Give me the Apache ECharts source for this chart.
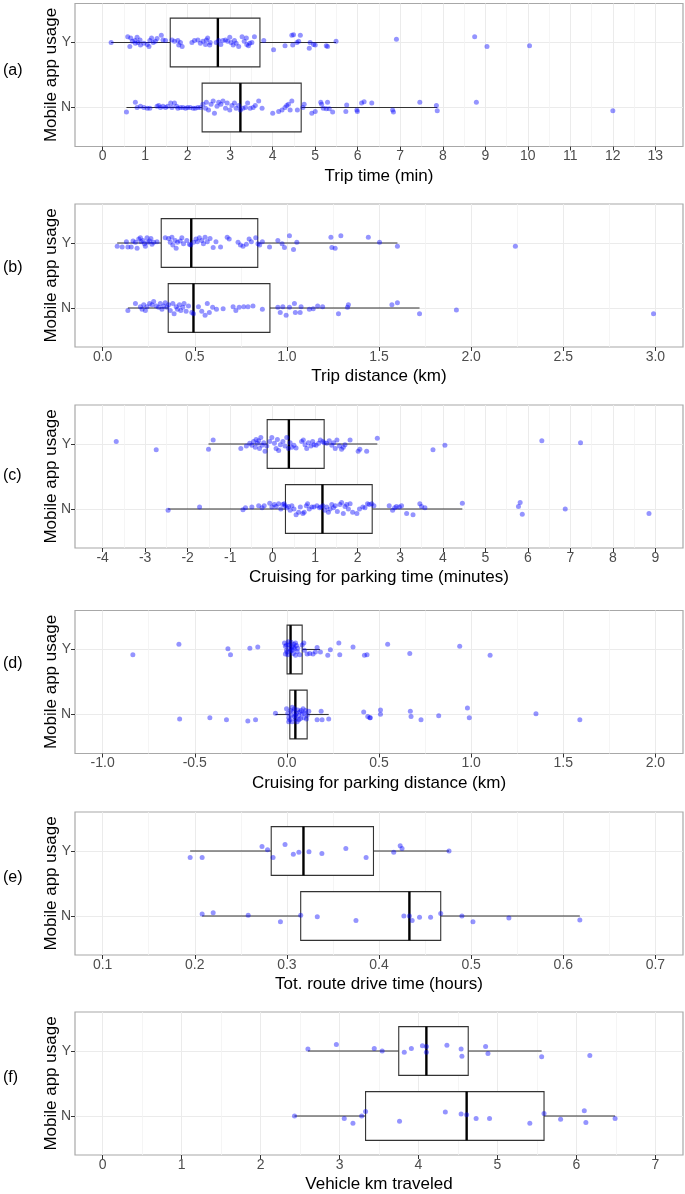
<!DOCTYPE html>
<html><head><meta charset="utf-8">
<script src="https://cdn.jsdelivr.net/npm/echarts@6/dist/echarts.min.js"></script>
<style>html,body{margin:0;padding:0;background:#fff}#c{width:685px;height:1194px}</style>
</head><body><div id="c"></div>
<script>
// ---------------- DATA ----------------
const categories = ['N', 'Y'];
const yTitle = 'Mobile app usage';
const panelLabels = ['(a)', '(b)', '(c)', '(d)', '(e)', '(f)'];
const axisTitles = ['Trip time (min)', 'Trip distance (km)', 'Cruising for parking time (minutes)',
  'Cruising for parking distance (km)', 'Tot. route drive time (hours)', 'Vehicle km traveled'];

const ticksA = [0,1,2,3,4,5,6,7,8,9,10,11,12,13];
const ticksB = [0,0.5,1,1.5,2,2.5,3];
const ticksC = [-4,-3,-2,-1,0,1,2,3,4,5,6,7,8,9];
const ticksD = [-1,-0.5,0,0.5,1,1.5,2];
const ticksE = [0.1,0.2,0.3,0.4,0.5,0.6,0.7];
const ticksF = [0,1,2,3,4,5,6,7];
const tickDecimals = [0, 1, 0, 1, 1, 0];

// box stats: [whisker low, Q1, median, Q3, whisker high]
const boxA_N = [0.56, 2.34, 3.24, 4.67, 7.87];
const boxA_Y = [0.20, 1.59, 2.71, 3.70, 5.49];
const boxB_N = [0.137, 0.356, 0.493, 0.908, 1.72];
const boxB_Y = [0.079, 0.318, 0.481, 0.842, 1.60];
const boxC_N = [-2.46, 0.30, 1.17, 2.34, 4.46];
const boxC_Y = [-1.51, -0.13, 0.38, 1.21, 2.46];
const boxD_N = [-0.062, 0.016, 0.046, 0.110, 0.227];
const boxD_Y = [0.0, 0.001, 0.020, 0.083, 0.18];
const boxE_N = [0.208, 0.315, 0.433, 0.467, 0.618];
const boxE_Y = [0.195, 0.283, 0.318, 0.394, 0.476];
const boxF_N = [2.43, 3.33, 4.61, 5.59, 6.49];
const boxF_Y = [2.60, 3.75, 4.10, 4.63, 5.56];

// jittered points: [value, vertical jitter]
const ptsA_Y = [[0.20,0],[0.59,0.09],[0.66,0.07],[0.70,0.02],[0.64,-0.06],[0.76,0.03],[0.81,0.08],[0.83,0],[0.88,0.04],[0.77,-0.01],[0.89,-0.04],[0.97,-0.01],[1.05,-0.03],[1.11,0.03],[1.15,0.07],[1.19,0],[1.09,-0.06],[1.24,0.02],[1.28,0.06],[1.38,0.11],[1.42,0.04],[1.48,0.03],[1.63,0.04],[1.69,0.02],[1.77,0.03],[1.83,0],[1.87,-0.06],[1.79,-0.04],[2.10,0],[2.16,0.03],[2.24,0.04],[2.30,-0.01],[2.36,0.02],[2.42,-0.03],[2.47,0.07],[2.52,-0.04],[2.44,0.04],[2.53,0],[2.67,0],[2.73,0.03],[2.78,-0.03],[2.83,0.03],[2.89,0.04],[2.94,0.02],[2.99,0.08],[3.02,0],[3.07,-0.04],[3.10,0.03],[3.14,-0.01],[3.20,-0.06],[3.28,0.09],[3.33,0.02],[3.39,-0.03],[3.46,-0.01],[3.51,0],[3.57,0.09],[3.43,-0.05],[3.38,0.07],[3.79,0.03],[4.02,-0.11],[4.29,-0.05],[4.45,0.11],[4.49,0.12],[4.65,0.11],[4.47,-0.04],[4.57,0],[4.61,0.02],[4.88,0],[4.86,-0.09],[4.96,-0.03],[5.00,-0.04],[5.26,-0.05],[5.29,-0.06],[5.49,0.02],[6.91,0.05],[8.75,0.09],[9.04,-0.06],[10.04,-0.05]];
const ptsA_N = [[0.56,-0.07],[0.77,0.08],[0.81,0],[0.89,0.02],[0.97,0],[1.05,-0.01],[1.11,-0.01],[1.28,0.02],[1.32,0.03],[1.36,0],[1.42,0.02],[1.48,0],[1.53,0.02],[1.60,0.07],[1.63,0],[1.69,0.07],[1.74,0.02],[1.77,-0.01],[1.83,0],[1.89,0],[1.95,-0.01],[2.00,0],[2.06,0],[2.13,-0.01],[2.18,-0.01],[2.24,0],[2.30,0],[2.36,0.05],[2.42,-0.01],[2.44,0.08],[2.49,-0.04],[2.55,0.05],[2.60,0.10],[2.63,-0.09],[2.69,0.02],[2.73,0.08],[2.78,0.05],[2.83,0.10],[2.89,-0.01],[2.93,0.07],[2.99,-0.04],[3.04,0.03],[3.10,0.07],[3.14,-0.01],[3.20,0.03],[3.24,-0.04],[3.30,-0.01],[3.36,0],[3.41,0.07],[3.47,-0.01],[3.54,0],[3.59,0.03],[3.67,0.10],[3.75,-0.01],[4.00,-0.09],[4.14,-0.06],[4.22,-0.04],[4.29,0],[4.33,0.03],[4.37,0.05],[4.45,0.10],[4.41,-0.04],[4.58,-0.04],[4.71,0],[4.74,0.05],[4.92,-0.09],[5.00,-0.06],[5.13,0.08],[5.15,0.05],[5.19,-0.01],[5.26,-0.02],[5.29,0.08],[5.33,-0.02],[5.41,-0.07],[5.72,-0.06],[5.74,0.04],[5.98,-0.04],[5.99,-0.06],[6.09,0.07],[6.15,0.09],[6.33,0.07],[6.82,-0.04],[6.84,-0.07],[7.46,0.08],[7.85,0.03],[7.87,-0.05],[8.79,0.08],[12.0,-0.05]];
const ptsB_Y = [[0.079,-0.05],[0.106,-0.06],[0.129,0.02],[0.137,-0.06],[0.155,-0.06],[0.165,0.03],[0.178,0.01],[0.187,-0.08],[0.196,0.06],[0.205,0.08],[0.209,0.02],[0.219,0.04],[0.227,-0.01],[0.232,-0.05],[0.241,0.08],[0.245,0.01],[0.255,0.03],[0.262,0.07],[0.268,-0.02],[0.277,0.01],[0.295,0.02],[0.340,0.08],[0.358,0.07],[0.367,0.01],[0.376,0.09],[0.381,-0.03],[0.394,0.04],[0.399,-0.08],[0.406,0.01],[0.421,0.03],[0.430,0.08],[0.439,-0.01],[0.457,0.04],[0.471,-0.02],[0.478,-0.03],[0.493,0.01],[0.507,0.06],[0.514,0.02],[0.525,0.08],[0.538,0.04],[0.547,-0.01],[0.556,0.09],[0.568,0.02],[0.583,0.07],[0.600,-0.07],[0.615,0.02],[0.640,-0.06],[0.676,0.09],[0.687,0.06],[0.735,0.01],[0.748,-0.03],[0.762,-0.05],[0.780,-0.02],[0.795,0.06],[0.807,0.02],[0.831,0.08],[0.843,-0.01],[0.852,-0.03],[0.867,0.02],[0.906,-0.06],[0.951,0.04],[0.974,-0.01],[0.987,-0.07],[1.014,0.11],[1.036,-0.10],[1.054,0.01],[1.239,0.09],[1.244,-0.07],[1.262,-0.08],[1.293,0.11],[1.442,0.09],[1.503,0.01],[1.60,-0.05],[2.24,-0.05]];
const ptsB_N = [[0.137,-0.04],[0.178,0.07],[0.205,0.02],[0.214,-0.02],[0.223,0.05],[0.232,-0.04],[0.241,0.02],[0.255,0.07],[0.268,0.05],[0.277,0.10],[0.291,0.03],[0.304,0.01],[0.313,0.07],[0.322,-0.02],[0.331,0.03],[0.340,0.08],[0.349,0.01],[0.358,0.05],[0.367,-0.04],[0.381,0.07],[0.388,-0.09],[0.399,0.02],[0.406,-0.02],[0.417,0.05],[0.424,-0.04],[0.435,0.01],[0.442,0.07],[0.453,-0.05],[0.466,0.03],[0.484,-0.07],[0.493,-0.09],[0.520,0.02],[0.538,-0.05],[0.556,-0.11],[0.568,0.07],[0.579,-0.07],[0.597,0.01],[0.618,-0.02],[0.654,-0.01],[0.708,0.02],[0.723,-0.04],[0.741,0.01],[0.766,0.02],[0.789,0.02],[0.816,0.03],[0.867,-0.02],[0.951,0.01],[0.964,-0.07],[0.978,0.02],[0.996,-0.11],[1.014,0.01],[1.041,0.07],[1.046,-0.07],[1.072,-0.07],[1.077,0.02],[1.122,-0.02],[1.143,-0.01],[1.167,0.03],[1.194,0.02],[1.280,-0.09],[1.329,0.01],[1.334,0.05],[1.57,0.05],[1.60,0.08],[1.72,-0.09],[1.92,-0.03],[2.99,-0.09]];
const ptsC_Y = [[-1.51,-0.08],[-1.40,0.06],[-0.75,-0.07],[-0.62,-0.03],[-0.54,0.01],[-0.49,-0.02],[-0.45,0.04],[-0.41,-0.05],[-0.39,0.07],[-0.36,0.01],[-0.33,0.05],[-0.31,-0.07],[-0.28,0.10],[-0.25,-0.02],[-0.21,0.02],[-0.18,-0.11],[-0.14,-0.03],[-0.07,0.04],[-0.02,0.10],[0.04,0.01],[0.08,-0.07],[0.11,0.07],[0.14,-0.10],[0.18,-0.01],[0.24,0.04],[0.29,-0.03],[0.33,0.10],[0.37,-0.07],[0.41,0.02],[0.45,-0.05],[0.50,-0.02],[0.55,-0.06],[0.68,0.04],[0.72,0.06],[0.76,-0.01],[0.80,-0.07],[0.84,0.02],[0.90,-0.03],[0.94,0.04],[0.97,-0.01],[1.02,-0.02],[1.08,0.01],[1.12,0.06],[1.18,0.04],[1.21,0.02],[1.27,0.01],[1.33,0.05],[1.39,-0.02],[1.43,0.02],[1.47,-0.07],[1.51,0.06],[1.57,-0.03],[1.62,-0.08],[1.66,-0.05],[1.70,-0.01],[1.82,0.06],[2.01,-0.11],[2.05,-0.08],[2.21,-0.11],[2.46,0.09],[-3.68,0.04],[-2.74,-0.09],[3.77,-0.09],[4.05,-0.02],[6.33,0.05],[7.24,0.02]];
const ptsC_N = [[-2.46,-0.02],[-1.72,0.03],[-0.70,-0.01],[-0.64,0.02],[-0.49,0.03],[-0.33,0.05],[-0.25,0.02],[-0.20,0.05],[-0.07,0.09],[-0.02,0.03],[0.04,0.07],[0.08,0.04],[0.14,0.08],[0.19,0],[0.24,0.07],[0.27,0.08],[0.29,0.05],[0.33,0.02],[0.37,0.04],[0.41,-0.02],[0.45,0.05],[0.50,0],[0.55,-0.09],[0.61,-0.05],[0.65,0.03],[0.71,-0.07],[0.74,-0.05],[0.79,0.05],[0.82,0.08],[0.86,0],[0.92,0.03],[0.97,0.03],[1.04,0.05],[1.10,0.02],[1.13,0.03],[1.18,0.05],[1.23,-0.02],[1.27,0.03],[1.31,-0.05],[1.35,0],[1.39,0.07],[1.43,0.02],[1.47,0.05],[1.52,-0.04],[1.58,0.07],[1.62,0.10],[1.66,-0.07],[1.70,0.04],[1.74,0.07],[1.78,0],[1.82,0.08],[1.88,-0.05],[1.98,-0.07],[2.04,0],[2.12,0.03],[2.17,0.02],[2.23,0.08],[2.27,0.07],[2.33,0.08],[2.38,0.05],[2.74,0.05],[2.82,-0.02],[2.87,0.02],[2.91,0.04],[2.98,0.03],[3.03,0.05],[3.15,-0.07],[3.30,-0.09],[3.46,0.08],[3.50,0.04],[3.58,0.02],[4.46,0.09],[5.82,0.10],[5.78,0.04],[5.87,-0.08],[6.88,0],[8.85,-0.07]];
const ptsD_Y = [[-0.836,-0.08],[-0.586,0.08],[-0.320,0.01],[-0.306,-0.08],[-0.201,0.02],[-0.158,0.04],[-0.013,0.10],[-0.008,0.05],[-0.002,-0.01],[0.001,-0.04],[0.005,-0.08],[0.010,0.07],[0.016,0.02],[0.020,-0.02],[0.023,0.11],[0.029,0.05],[0.034,-0.06],[0.038,0.08],[0.041,0.01],[0.047,-0.09],[0.052,0.06],[0.056,-0.03],[-0.008,-0.07],[0.007,0.12],[0.029,-0.01],[0.038,0.03],[-0.002,0.07],[0.047,0.10],[0.059,0.02],[0.070,-0.08],[0.083,0.07],[0.092,0.10],[0.095,-0.01],[0.110,-0.07],[0.124,-0.06],[0.142,-0.07],[0.155,-0.04],[0.164,0.03],[0.182,-0.04],[0.222,-0.09],[0.236,-0.005],[0.282,0.10],[0.287,-0.08],[0.359,0.04],[0.421,-0.09],[0.435,-0.08],[0.547,0.08],[0.667,-0.06],[0.938,0.05],[1.103,-0.09]];
const ptsD_N = [[-0.582,-0.07],[-0.418,-0.05],[-0.328,-0.08],[-0.212,-0.10],[-0.170,-0.08],[-0.062,0.02],[-0.002,0.09],[0.005,0.02],[0.010,-0.05],[0.016,-0.08],[0.020,0.06],[0.023,-0.01],[0.029,-0.11],[0.034,0.05],[0.038,-0.03],[0.041,0.09],[0.047,-0.07],[0.052,0.02],[0.056,-0.11],[0.059,0.07],[0.065,-0.02],[0.070,0.04],[0.074,-0.06],[0.077,0.06],[0.083,0.01],[0.088,0.09],[0.092,-0.05],[0.095,0.02],[0.101,0.06],[0.106,-0.07],[0.110,-0.01],[0.119,0.05],[0.010,-0.11],[0.029,0.11],[0.047,-0.01],[0.065,-0.08],[0.164,-0.08],[0.186,0.05],[0.191,-0.08],[0.227,-0.07],[0.417,0.04],[0.439,-0.03],[0.450,-0.05],[0.453,-0.05],[0.508,0.07],[0.508,0.005],[0.670,0.05],[0.674,-0.03],[0.728,-0.08],[0.824,-0.02],[0.98,0.10],[0.99,-0.05],[1.352,0.01],[1.59,-0.08]];
const ptsE_Y = [[0.195,-0.10],[0.208,-0.10],[0.273,0.07],[0.279,0.02],[0.285,-0.10],[0.298,0.10],[0.307,-0.05],[0.313,-0.02],[0.324,-0.01],[0.338,-0.04],[0.364,0.04],[0.386,-0.10],[0.416,-0.02],[0.423,0.08],[0.425,0.04],[0.476,0]];
const ptsE_N = [[0.208,0.03],[0.220,0.05],[0.258,0.01],[0.293,-0.09],[0.315,0.01],[0.333,-0.01],[0.375,-0.07],[0.427,0],[0.433,0],[0.436,-0.07],[0.444,-0.02],[0.456,-0.02],[0.467,0.04],[0.490,0],[0.502,-0.09],[0.541,-0.03],[0.618,-0.06]];
const ptsF_Y = [[2.60,0.03],[2.96,0.10],[3.44,0.04],[3.54,0],[3.82,-0.02],[3.91,0.04],[4.05,0.08],[4.10,0.07],[4.10,-0.02],[4.36,0.09],[4.54,0.03],[4.55,-0.08],[4.85,0.07],[4.88,-0.04],[5.56,-0.09],[6.17,-0.07]];
const ptsF_N = [[2.43,0],[3.06,-0.04],[3.17,-0.11],[3.28,0],[3.33,0.07],[3.76,-0.08],[4.34,0.06],[4.54,0.03],[4.61,0.02],[4.73,-0.04],[4.90,-0.04],[5.41,-0.11],[5.59,0.04],[5.80,-0.05],[6.10,0.08],[6.12,-0.10],[6.49,-0.04]];

// ---------------- BUILD ----------------
const panels = [
  {ticks: ticksA, boxN: boxA_N, boxY: boxA_Y, ptsN: ptsA_N, ptsY: ptsA_Y},
  {ticks: ticksB, boxN: boxB_N, boxY: boxB_Y, ptsN: ptsB_N, ptsY: ptsB_Y},
  {ticks: ticksC, boxN: boxC_N, boxY: boxC_Y, ptsN: ptsC_N, ptsY: ptsC_Y},
  {ticks: ticksD, boxN: boxD_N, boxY: boxD_Y, ptsN: ptsD_N, ptsY: ptsD_Y},
  {ticks: ticksE, boxN: boxE_N, boxY: boxE_Y, ptsN: ptsE_N, ptsY: ptsE_Y},
  {ticks: ticksF, boxN: boxF_N, boxY: boxF_Y, ptsN: ptsF_N, ptsY: ptsF_Y}
];
const FONT = '"Liberation Sans", Arial, Helvetica, sans-serif';
const tops = [3.5, 204, 405, 610.5, 812, 1012];
const labelY = [73, 270, 478, 666, 880, 1080];
const GH = 143;

const grid = [], xAxis = [], yAxis = [], series = [], graphic = [];
panels.forEach((p, i) => {
  const lo = p.ticks[0], hi = p.ticks[p.ticks.length - 1];
  const ext = (hi - lo) * 0.05;
  const minor = [];
  for (let k = 0; k < p.ticks.length - 1; k++) minor.push((p.ticks[k] + p.ticks[k + 1]) / 2);
  p.minor = minor;
  grid.push({left: 75, width: 608, top: tops[i], height: GH, show: true,
    borderColor: '#a8a8a8', borderWidth: 1.2, backgroundColor: 'transparent'});
  const dec = tickDecimals[i];
  xAxis.push({
    gridIndex: i, type: 'value', min: lo - ext, max: hi + ext,
    axisLine: {show: false, onZero: false},
    axisTick: {show: true, customValues: p.ticks, length: 4, lineStyle: {color: '#333', width: 1}},
    axisLabel: {show: true, customValues: p.ticks, formatter: v => Number(v).toFixed(dec),
      color: '#4d4d4d', fontSize: 14, margin: 3, fontFamily: FONT},
    splitLine: {show: true, lineStyle: {color: '#ebebeb', width: 1}},
    name: axisTitles[i], nameLocation: 'middle', nameGap: 21, nameMoveOverlap: false,
    nameTextStyle: {fontSize: 17, color: '#000', fontFamily: FONT}
  });
  yAxis.push({
    gridIndex: i, type: 'value', min: 0.4, max: 2.6,
    axisLine: {show: false, onZero: false},
    axisTick: {show: true, customValues: [1, 2], length: 4, lineStyle: {color: '#333', width: 1}},
    axisLabel: {show: true, customValues: [1, 2], formatter: v => categories[Math.round(v) - 1],
      color: '#4d4d4d', fontSize: 14, margin: 4, fontFamily: FONT},
    splitLine: {show: true, lineStyle: {color: '#ebebeb', width: 1}},
    name: yTitle, nameLocation: 'middle', nameGap: 15, nameRotate: 90, nameMoveOverlap: false,
    nameTextStyle: {fontSize: 17, color: '#000', fontFamily: FONT}
  });
  graphic.push({type: 'text', left: 3, top: labelY[i] - 10,
    style: {text: panelLabels[i], font: '16px ' + FONT, fill: '#000'}});
});
panels.forEach((p, i) => {
  const lo = p.ticks[0], hi = p.ticks[p.ticks.length - 1];
  const ext = (hi - lo) * 0.05;
  xAxis.push({
    gridIndex: i, type: 'value', min: lo - ext, max: hi + ext,
    axisLine: {show: false, onZero: false}, axisLabel: {show: false},
    axisTick: {show: false, customValues: p.minor},
    splitLine: {show: true, lineStyle: {color: '#f3f3f3', width: 0.8}}
  });
});
panels.forEach((p, i) => {
  series.push({
    type: 'custom', xAxisIndex: i, yAxisIndex: i, z: 3,
    data: [[1].concat(p.boxN), [2].concat(p.boxY)],
    encode: {x: [1, 2, 3, 4, 5], y: 0},
    renderItem: (params, api) => {
      const y = api.value(0);
      const a = api.coord([api.value(1), y]), b = api.coord([api.value(2), y]),
            m = api.coord([api.value(3), y]), c = api.coord([api.value(4), y]),
            d = api.coord([api.value(5), y]);
      const h = api.size([0, 0.75])[1];
      const ln = {stroke: '#333', lineWidth: 1.1};
      return {type: 'group', children: [
        {type: 'line', shape: {x1: a[0], y1: a[1], x2: b[0], y2: b[1]}, style: ln},
        {type: 'line', shape: {x1: c[0], y1: c[1], x2: d[0], y2: d[1]}, style: ln},
        {type: 'rect', shape: {x: b[0], y: b[1] - h / 2, width: c[0] - b[0], height: h},
          style: {fill: '#fff', stroke: '#333', lineWidth: 1.1}},
        {type: 'line', shape: {x1: m[0], y1: m[1] - h / 2, x2: m[0], y2: m[1] + h / 2},
          style: {stroke: '#000', lineWidth: 2.4}}
      ]};
    }
  });
  [[p.ptsN, 1], [p.ptsY, 2]].forEach(([pts, cat]) => {
    series.push({
      type: 'scatter', xAxisIndex: i, yAxisIndex: i, z: 4,
      symbolSize: 5, data: pts.map(q => [q[0], cat + q[1]]),
      itemStyle: {color: '#0000ff', opacity: 0.42},
      emphasis: {disabled: true}
    });
  });
});

const chart = echarts.init(document.getElementById('c'), null, {renderer: 'canvas'});
chart.setOption({animation: false, backgroundColor: '#fff', grid, xAxis, yAxis, series, graphic});
</script></body></html>
